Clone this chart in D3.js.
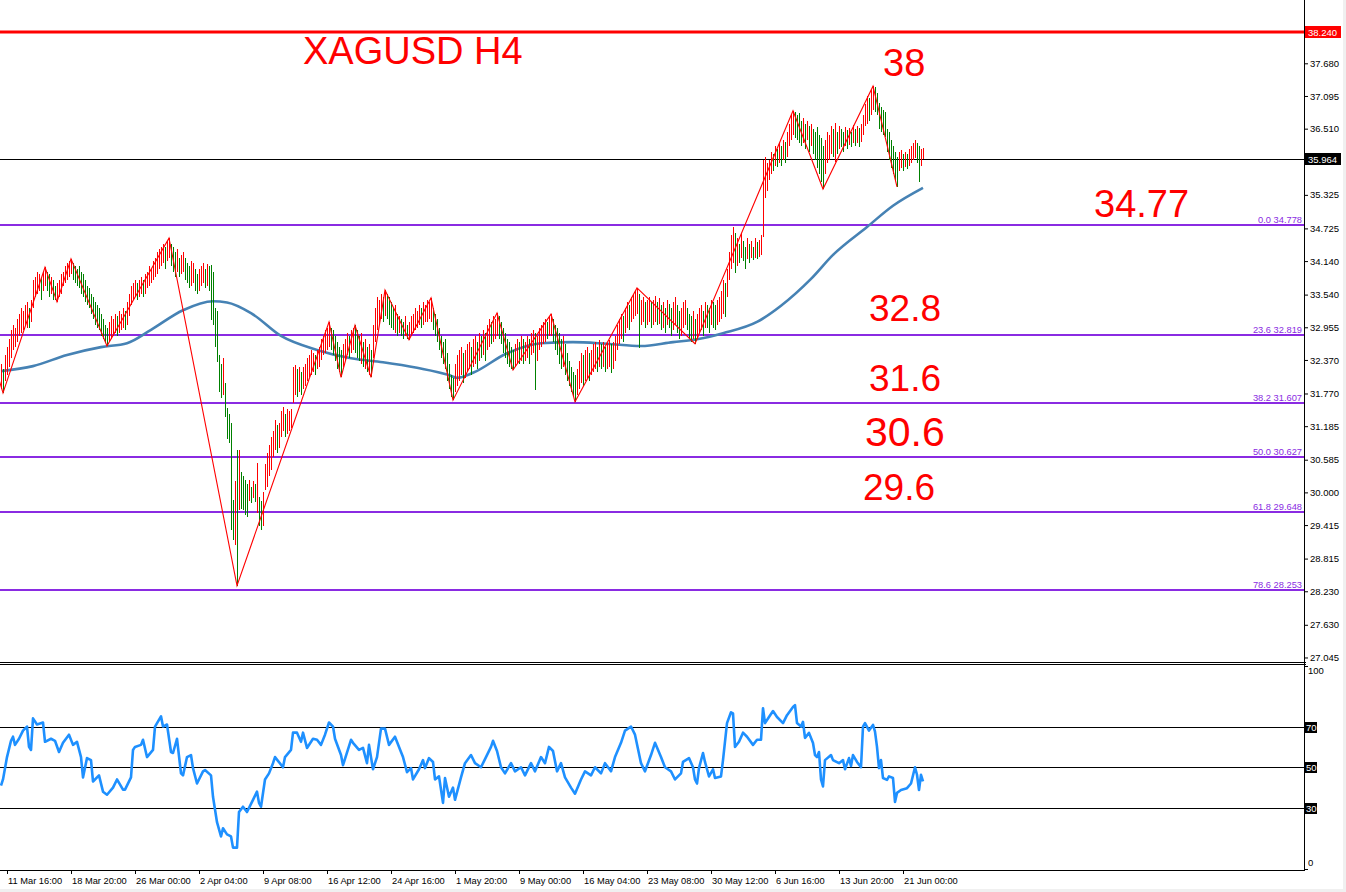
<!DOCTYPE html>
<html><head><meta charset="utf-8">
<script src="https://cdn.jsdelivr.net/npm/d3@7"></script>
<style>body{margin:0;background:#fff}svg{display:block}</style>
</head><body><svg id="c" width="1346" height="892"></svg>
<script>
// ---------------- DATA ----------------
// H4 bars: [high, low]
const bars = [
[32.30,31.85],[32.20,31.78],[32.45,32.00],[32.60,32.10],[32.75,32.25],[32.90,32.40],[33.00,32.55],[32.95,32.60],[33.10,32.70],[33.20,32.80],
[33.30,32.85],[33.25,32.90],[33.35,33.00],[33.40,32.95],[33.30,32.95],[33.45,33.05],[33.80,33.30],[33.85,33.50],[33.95,33.55],[33.90,33.60],
[33.85,33.45],[33.95,33.60],[34.03,33.70],[33.95,33.60],[33.90,33.50],[33.85,33.55],[33.80,33.45],[33.70,33.45],[33.75,33.41],[33.80,33.50],
[33.90,33.55],[33.95,33.70],[34.05,33.75],[34.10,33.80],[34.15,33.85],[34.18,33.90],[34.10,33.80],[34.05,33.75],[34.00,33.70],[34.05,33.65],
[33.95,33.55],[33.90,33.50],[33.80,33.40],[33.70,33.35],[33.65,33.30],[33.55,33.20],[33.50,33.10],[33.40,33.00],[33.35,32.95],[33.30,32.90],
[33.20,32.80],[33.10,32.75],[33.00,32.70],[32.95,32.62],[33.05,32.70],[33.15,32.75],[33.10,32.80],[33.20,32.85],[33.15,32.80],[33.25,32.85],
[33.20,32.90],[33.30,32.95],[33.25,32.90],[33.40,33.00],[33.55,33.15],[33.70,33.35],[33.75,33.45],[33.80,33.50],[33.75,33.45],[33.80,33.50],
[33.85,33.55],[33.80,33.50],[33.90,33.55],[33.95,33.65],[34.05,33.70],[34.00,33.75],[34.15,33.80],[34.20,33.85],[34.30,33.90],[34.35,34.00],
[34.40,34.05],[34.45,34.10],[34.40,34.00],[34.50,34.15],[34.55,34.20],[34.45,34.05],[34.40,33.95],[34.30,33.85],[34.35,33.95],[34.20,33.85],
[34.25,33.90],[34.30,33.95],[34.20,33.80],[34.10,33.75],[34.05,33.65],[34.15,33.70],[34.10,33.75],[34.00,33.60],[33.90,33.55],[34.00,33.60],
[34.05,33.70],[34.10,33.75],[34.00,33.65],[34.08,33.70],[34.05,33.60],[34.07,33.08],[33.95,33.00],[33.30,32.60],[33.24,32.33],[32.46,31.80],
[32.30,31.69],[32.40,31.75],[31.96,31.35],[31.51,30.95],[31.40,30.88],[31.24,29.33],[29.86,29.15],[30.20,29.05],[30.76,28.33],[30.76,29.68],
[30.36,29.70],[30.30,29.68],[30.22,29.60],[30.15,29.56],[30.22,29.85],[30.10,29.81],[30.20,29.90],[30.15,29.82],[30.53,29.63],[29.92,29.40],
[29.85,29.33],[30.00,29.40],[30.50,30.04],[30.70,30.10],[30.85,30.30],[30.99,30.40],[31.10,30.63],[31.30,30.75],[31.20,30.70],[31.25,30.80],
[31.45,30.99],[31.53,31.10],[31.40,31.00],[31.50,31.05],[31.45,31.10],[31.50,31.15],[32.24,31.60],[32.28,31.75],[32.20,31.71],[32.25,31.80],
[32.15,31.75],[32.25,31.85],[32.30,31.90],[32.40,32.00],[32.45,32.06],[32.55,32.10],[32.50,32.15],[32.45,32.10],[32.55,32.20],[32.60,32.25],
[32.75,32.37],[32.80,32.45],[32.90,32.50],[32.95,32.55],[33.05,32.60],[32.95,32.55],[32.90,32.45],[32.80,32.35],[32.70,32.20],[32.60,32.15],
[32.55,32.06],[32.65,32.25],[32.75,32.35],[32.85,32.45],[32.80,32.40],[32.90,32.50],[32.95,32.55],[32.99,32.50],[32.90,32.40],[32.80,32.35],
[32.85,32.30],[32.70,32.25],[32.75,32.20],[32.60,32.15],[32.65,32.10],[32.55,32.06],[33.00,32.40],[33.30,32.70],[33.50,32.90],[33.45,33.00],
[33.55,33.10],[33.50,33.05],[33.62,33.15],[33.55,33.10],[33.50,33.00],[33.40,32.95],[33.30,32.90],[33.35,32.85],[33.20,32.80],[33.15,32.85],
[33.10,32.80],[33.05,32.75],[33.15,32.80],[33.00,32.75],[33.05,32.73],[33.15,32.80],[33.20,32.85],[33.30,32.90],[33.25,32.95],[33.35,33.00],
[33.30,32.95],[33.40,33.00],[33.35,33.05],[33.45,33.05],[33.40,33.10],[33.48,33.05],[33.30,32.90],[33.20,32.80],[33.10,32.70],[32.95,32.55],
[32.80,32.40],[32.70,32.30],[32.75,32.20],[32.50,32.00],[32.30,31.85],[32.10,31.70],[32.05,31.65],[32.30,31.80],[32.45,31.90],[32.55,32.00],
[32.60,32.10],[32.50,31.95],[32.55,32.05],[32.65,32.15],[32.70,32.20],[32.60,32.10],[32.75,32.25],[32.80,32.30],[32.70,32.20],[32.85,32.35],
[32.80,32.40],[32.90,32.45],[32.85,32.35],[33.00,32.55],[33.10,32.60],[33.05,32.65],[33.15,32.70],[33.10,32.75],[33.21,32.80],[33.15,32.75],
[33.05,32.65],[32.95,32.50],[32.85,32.40],[32.75,32.30],[32.70,32.25],[32.60,32.20],[32.55,32.19],[32.65,32.25],[32.75,32.30],[32.70,32.30],
[32.80,32.35],[32.75,32.30],[32.70,32.35],[32.80,32.40],[32.75,32.30],[32.85,32.45],[32.90,32.50],[32.85,31.83],[32.80,32.35],[32.95,32.55],
[33.00,32.60],[33.05,32.65],[33.10,32.70],[33.05,32.75],[33.15,32.80],[33.19,32.80],[33.10,32.70],[33.00,32.55],[32.95,32.45],[32.85,32.30],
[32.75,32.20],[32.80,32.25],[32.65,32.10],[32.50,32.00],[32.35,31.90],[32.25,31.80],[32.15,31.70],[32.10,31.62],[32.20,31.75],[32.35,31.85],
[32.50,31.95],[32.45,31.90],[32.55,32.00],[32.60,32.05],[32.50,32.00],[32.55,32.10],[32.65,32.15],[32.70,32.20],[32.60,32.15],[32.73,32.25],
[32.65,32.20],[32.70,32.25],[32.60,32.15],[32.68,32.20],[32.72,32.25],[32.65,32.13],[32.70,32.20],[32.80,32.35],[33.00,32.55],[33.10,32.65],
[33.20,32.75],[33.15,32.70],[33.30,32.85],[33.40,32.95],[33.35,32.90],[33.50,33.05],[33.55,33.10],[33.60,33.15],[33.66,33.20],[33.55,32.58],
[33.45,33.00],[33.50,33.05],[33.40,32.95],[33.45,33.00],[33.50,33.05],[33.40,32.95],[33.45,33.00],[33.52,33.05],[33.40,33.00],[33.48,33.02],
[33.35,32.90],[33.40,32.95],[33.30,32.85],[33.45,33.00],[33.38,32.95],[33.30,32.80],[33.40,32.90],[33.50,33.00],[33.35,32.85],[33.25,32.75],
[33.30,32.80],[33.40,32.95],[33.45,33.00],[33.30,32.90],[33.20,32.75],[33.15,32.70],[33.25,32.75],[33.10,32.66],[33.20,32.75],[33.30,32.85],
[33.35,32.90],[33.25,32.80],[33.40,32.95],[33.35,32.95],[33.30,32.85],[33.45,33.00],[33.40,32.95],[33.35,32.90],[33.45,33.00],[33.50,33.05],
[33.60,33.10],[33.80,33.20],[33.75,33.14],[34.00,33.50],[34.30,33.80],[34.60,34.00],[34.75,34.10],[34.65,33.93],[34.55,34.05],[34.45,34.10],
[34.64,34.20],[34.50,34.15],[34.40,34.00],[34.55,34.18],[34.45,34.10],[34.50,34.20],[34.40,34.16],[34.55,34.20],[34.48,34.18],[34.52,34.22],
[34.60,34.25],[35.95,34.57],[36.00,35.27],[35.90,35.40],[35.95,35.60],[36.10,35.70],[36.05,35.75],[36.20,35.85],[36.15,35.83],[36.25,35.90],
[36.20,35.85],[36.31,35.95],[36.28,35.90],[36.45,36.00],[36.60,36.20],[36.75,36.30],[36.83,36.40],[36.80,36.35],[36.75,36.30],[36.79,36.25],
[36.65,36.20],[36.70,36.25],[36.60,36.15],[36.65,36.30],[36.55,36.10],[36.60,36.20],[36.50,36.05],[36.45,35.95],[36.54,35.80],[36.40,35.70],
[36.35,35.55],[36.20,35.43],[36.30,35.70],[36.45,35.90],[36.40,35.95],[36.55,36.05],[36.50,36.00],[36.61,35.91],[36.45,36.05],[36.55,36.15],
[36.50,36.18],[36.45,36.10],[36.54,36.20],[36.48,36.15],[36.52,36.22],[36.45,36.18],[36.58,36.25],[36.50,36.20],[36.55,36.25],[36.52,36.18],
[36.60,36.28],[36.75,36.40],[36.95,36.55],[37.10,36.60],[37.05,36.65],[37.20,36.75],[37.27,36.85],[37.25,36.80],[37.15,36.75],[36.97,36.50],
[36.90,36.45],[36.85,36.40],[36.80,36.36],[36.50,36.10],[36.45,35.95],[36.30,35.80],[36.20,35.70],[36.10,35.60],[36.00,35.47],[36.10,35.75],
[36.13,35.80],[36.05,35.75],[36.10,35.82],[36.05,35.78],[36.15,35.85],[36.20,35.90],[36.25,35.95],[36.31,35.98],[36.25,35.90],[36.20,35.56],
[36.15,35.85],[36.16,35.96]
];

// ZigZag pivots: [bar index, price]
const zigzag = [[-6,32.62],[1,31.78],[22,34.03],[28,33.41],[35,34.18],[53,32.62],[84,34.55],[118,28.33],[164,33.05],[170,32.06],[177,32.99],
[185,32.06],[192,33.62],[204,32.73],[215,33.48],[226,31.65],[248,33.21],[256,32.19],[275,33.19],[287,31.62],[318,33.66],[347,32.66],
[396,36.83],[411,35.43],[436,37.27],[448,35.47]];

// Moving average: [bar index, price]
const movingAvg = [[0,32.17],[16,32.26],[33,32.46],[50,32.60],[63,32.67],[75,32.91],[91,33.26],[106,33.42],[113,33.40],[125,33.21],
[140,32.80],[158,32.55],[175,32.40],[191,32.33],[208,32.23],[224,32.10],[228,32.05],[236,32.14],[253,32.49],[270,32.67],[286,32.69],
[303,32.66],[320,32.62],[336,32.69],[348,32.74],[361,32.85],[378,33.05],[390,33.34],[405,33.82],[416,34.25],[433,34.75],[446,35.13],[461,35.45]];

// RSI: [bar index, value]
const rsi = [[0,41],[1,44],[3,55],[5,63],[6,65],[7,61],[9,64],[11,68],[13,70],[14,60],[15,58.5],[16,74],[18,71],[21,72],[22,62.5],
[25,64],[27,63],[29,57.5],[31,62],[34,66],[36,61],[38,62.5],[40,55],[41,45],[43,54.5],[45,53.5],[46,43],[49,46],[51,38],[53,36.5],
[56,40],[58,44],[61,39],[62,39],[65,45],[66,58.5],[67,60],[70,61],[71,63.5],[73,55],[76,58.5],[77,70],[80,75],[81,70],[83,71],
[85,57.5],[86,57],[88,64],[90,47],[91,46],[93,55],[95,56],[96,49.6],[98,42],[101,48],[102,48.6],[105,46],[106,35.5],[108,23],
[110,16],[111,20],[113,17],[115,16],[116,10.5],[117,10.5],[118,10.5],[119,28],[121,30.6],[123,28],[126,34],[128,38],[129,32.5],
[130,30.6],[132,44],[134,47],[136,52],[137,55],[141,50],[142,55],[145,58.5],[146,67],[148,67],[150,62.5],[151,67],[153,59.5],
[156,64],[158,63.5],[160,61],[162,66],[164,72],[166,70],[167,64],[170,56],[171,51],[175,63.5],[176,62],[179,58.5],[181,59.5],
[183,52],[184,61],[186,49],[188,55],[190,69],[192,69],[194,61],[197,65],[200,57.5],[201,55],[203,47.6],[205,49.6],[206,44],
[209,49],[211,53.5],[212,49.6],[214,54.5],[216,52.6],[217,44],[219,45.5],[221,32.5],[222,44.7],[224,35.5],[226,40],[227,34],
[230,45],[232,52],[235,56],[237,52],[240,50],[242,54],[245,60],[246,63],[248,58],[250,50],[252,47],[255,52],[257,48],[260,50],
[262,46],[265,52],[267,48],[270,55],[272,52],[274,60],[276,58],[278,48],[280,52],[282,45],[285,40],[287,37],[290,44],[292,48],
[295,46],[297,50],[300,47],[302,52],[305,48],[307,55],[310,62],[312,68],[315,70],[317,66],[320,52],[322,48],[325,56],[327,62],
[330,55],[332,50],[335,48],[337,44],[340,47],[341,52.6],[344,54.5],[346,50],[347,44],[348,42],[349,49.6],[351,57],[352,52.6],
[354,45.5],[356,49],[357,44.7],[360,45.5],[361,53.5],[363,71.7],[365,77],[366,76.5],[367,60],[369,62.5],[371,67],[373,65],
[376,61],[378,63.5],[380,63.5],[381,79],[382,71.7],[384,74.7],[386,77.6],[388,74.7],[391,71.7],[393,75.6],[396,79.6],[397,80.5],
[398,71.7],[400,70],[401,72.3],[402,64.4],[404,66.9],[406,61.9],[407,56],[408,55],[409,57.5],[410,44],[411,40.6],[412,53.5],
[415,56],[416,53.5],[419,52],[421,53.5],[422,49],[424,54.5],[425,50.6],[426,56],[428,52.6],[430,50],[431,70],[432,71.7],[434,68],
[436,70.8],[437,67.5],[438,60],[439,49.6],[440,53.5],[441,44.7],[443,43.8],[444,45.5],[446,44.7],[447,33],[448,37.4],[450,38.8],
[453,39.7],[455,42],[457,50],[458,46.3],[459,38.8],[460,46.3],[461,43]];

const priceTicks = [37.680,37.095,36.510,35.925,35.325,34.725,34.140,33.540,32.955,32.370,31.770,31.185,30.585,30.000,29.415,28.815,28.230,27.630,27.045];
const fibLevels = [34.778,32.819,31.607,30.627,29.648,28.253];
const fibRatios = ["0.0","23.6","38.2","50.0","61.8","78.6"];
const resistance = 38.240;
const lastPrice = 35.964;
const rsiLevels = [70,50,30];
const timeTickBars = [3,35,67,99,131,163,195,227,259,291,323,355,387,419,451];
const timeLabels = ["11 Mar 16:00","18 Mar 20:00","26 Mar 00:00","2 Apr 04:00","9 Apr 08:00","16 Apr 12:00","24 Apr 16:00","1 May 20:00",
"9 May 00:00","16 May 04:00","23 May 08:00","30 May 12:00","6 Jun 16:00","13 Jun 20:00","21 Jun 00:00"];
const noteTexts = ["XAGUSD H4","38","34.77","32.8","31.6","30.6","29.6"];

// ---------------- LAYOUT ----------------
const svg = d3.select("#c");
const axisX = 1304, mainBottom = 662, rsiTop = 664, rsiBottom = 870;
const AX_FONT = "'Liberation Sans', Arial, sans-serif";
const x = d3.scaleLinear().domain([-0.5, 651.5]).range([0, 1304]);
const y = d3.scaleLinear().domain([26.964, 38.813]).range([mainBottom, 0]);
const yr = d3.scaleLinear().domain([0, 100]).range([869, 665.5]);

svg.append("rect").attr("width",1346).attr("height",892).attr("fill","#fff");
svg.append("rect").attr("x",0).attr("y",889).attr("width",1346).attr("height",3).attr("fill","#f0f0f0");
svg.append("rect").attr("x",1343).attr("y",0).attr("width",3).attr("height",892).attr("fill","#f0f0f0");

const defs = svg.append("defs");
defs.append("clipPath").attr("id","cm").append("rect").attr("x",0).attr("y",0).attr("width",axisX).attr("height",mainBottom);
defs.append("clipPath").attr("id","cr").append("rect").attr("x",0).attr("y",rsiTop).attr("width",axisX).attr("height",rsiBottom-rsiTop);

const gm = svg.append("g").attr("clip-path","url(#cm)");

// fib lines
gm.selectAll("line.fib").data(fibLevels).join("line").attr("class","fib")
  .attr("x1",0).attr("x2",axisX).attr("y1",d=>Math.round(y(d))).attr("y2",d=>Math.round(y(d)))
  .attr("stroke","#8A2BE2").attr("stroke-width",2);
gm.selectAll("text.fibl").data(fibLevels).join("text").attr("class","fibl")
  .attr("x",axisX-2).attr("y",d=>Math.round(y(d))-2.5).attr("text-anchor","end")
  .attr("font-family",AX_FONT).attr("font-size",9.3).attr("fill","#8A2BE2")
  .text((d,i)=>fibRatios[i]+" "+d.toFixed(3));

// resistance and last price lines
gm.append("line").attr("x1",0).attr("x2",axisX).attr("y1",Math.round(y(resistance))).attr("y2",Math.round(y(resistance)))
  .attr("stroke","#ff0000").attr("stroke-width",3);
gm.append("line").attr("x1",0).attr("x2",axisX).attr("y1",Math.round(y(lastPrice))+0.5).attr("y2",Math.round(y(lastPrice))+0.5)
  .attr("stroke","#000").attr("stroke-width",1);

// moving average
gm.append("path").datum(movingAvg)
  .attr("d",d3.line().x(d=>x(d[0])).y(d=>y(d[1])).curve(d3.curveMonotoneX))
  .attr("fill","none").attr("stroke","#4682B4").attr("stroke-width",2.6);

// bars
gm.append("g").selectAll("line").data(bars).join("line")
  .attr("x1",(d,i)=>Math.round(x(i))+0.5).attr("x2",(d,i)=>Math.round(x(i))+0.5)
  .attr("y1",d=>y(d[0])).attr("y2",d=>y(d[1]))
  .attr("stroke",(d,i)=>{ if(i===0) return "#ff0000"; const p=bars[i-1]; return (d[0]+d[1]) >= (p[0]+p[1]) ? "#ff0000" : "#008000"; })
  .attr("stroke-width",1).attr("shape-rendering","crispEdges");

// zigzag
gm.append("path").datum(zigzag)
  .attr("d",d3.line().x(d=>x(d[0])).y(d=>y(d[1])))
  .attr("fill","none").attr("stroke","#ff0000").attr("stroke-width",1.1);

// annotations
const noteLayout = [
  {x:303,y:64,s:38},{x:883,y:76,s:38},{x:1094,y:217,s:38},{x:869,y:321,s:37},{x:869,y:391,s:37},{x:865,y:446,s:41},{x:863,y:500,s:37}
];
svg.selectAll("text.note").data(noteTexts).join("text").attr("class","note")
  .attr("x",(d,i)=>noteLayout[i].x).attr("y",(d,i)=>noteLayout[i].y)
  .attr("font-size",(d,i)=>noteLayout[i].s).attr("font-family","'Liberation Sans', Arial, sans-serif")
  .attr("fill","#ff0000").text(d=>d);

// RSI panel
const gr = svg.append("g").attr("clip-path","url(#cr)");
gr.selectAll("line.lvl").data(rsiLevels).join("line").attr("class","lvl")
  .attr("x1",0).attr("x2",axisX).attr("y1",d=>Math.round(yr(d))+0.5).attr("y2",d=>Math.round(yr(d))+0.5)
  .attr("stroke","#000").attr("stroke-width",1);
gr.append("path").datum(rsi)
  .attr("d",d3.line().x(d=>x(d[0])).y(d=>yr(d[1])))
  .attr("fill","none").attr("stroke","#1E90FF").attr("stroke-width",2.6).attr("stroke-linejoin","round");

// panel borders
svg.append("line").attr("x1",0).attr("x2",axisX+2).attr("y1",mainBottom+0.5).attr("y2",mainBottom+0.5).attr("stroke","#000");
svg.append("line").attr("x1",0).attr("x2",axisX+2).attr("y1",rsiTop+0.5).attr("y2",rsiTop+0.5).attr("stroke","#000");
svg.append("line").attr("x1",0).attr("x2",axisX+1).attr("y1",rsiBottom+0.5).attr("y2",rsiBottom+0.5).attr("stroke","#000");
svg.append("line").attr("x1",axisX+0.5).attr("x2",axisX+0.5).attr("y1",0).attr("y2",rsiBottom+1).attr("stroke","#000");

// price axis
const pa = svg.append("g").attr("transform",`translate(${axisX},0)`)
  .call(d3.axisRight(y).tickValues(priceTicks).tickFormat(d3.format(".3f")).tickSize(4).tickPadding(2));
pa.select(".domain").remove();
pa.selectAll("text").attr("font-family",AX_FONT).attr("font-size",9.5).attr("fill","#000");
pa.selectAll("line").attr("stroke","#000");

// price label boxes
function priceBox(v, bg){
  const yy = Math.round(y(v));
  svg.append("rect").attr("x",axisX+1).attr("y",yy-6).attr("width",36).attr("height",12).attr("fill",bg);
  svg.append("text").attr("x",axisX+4).attr("y",yy+3.5).attr("font-family",AX_FONT).attr("font-size",9.5)
    .attr("fill","#fff").text(v.toFixed(3));
}
priceBox(resistance,"#ff0000");
priceBox(lastPrice,"#000");

// RSI axis
[100,0].forEach(v=>{
  const yy = yr(v);
  svg.append("line").attr("x1",axisX).attr("x2",axisX+4).attr("y1",Math.round(yy)+0.5).attr("y2",Math.round(yy)+0.5).attr("stroke","#000");
  svg.append("text").attr("x",axisX+4).attr("y",v===100?yy+8:yy-3).attr("font-family",AX_FONT).attr("font-size",9.5)
    .attr("fill","#000").text(v);
});
rsiLevels.forEach(v=>{
  const yy = Math.round(yr(v));
  svg.append("rect").attr("x",axisX+1).attr("y",yy-5).attr("width",12).attr("height",11).attr("fill","#000");
  svg.append("text").attr("x",axisX+2).attr("y",yy+4).attr("font-family",AX_FONT).attr("font-size",9.5)
    .attr("fill","#fff").text(v);
});

// time axis
const ta = svg.append("g");
ta.selectAll("line").data(timeTickBars).join("line")
  .attr("x1",d=>Math.round(x(d))+0.5).attr("x2",d=>Math.round(x(d))+0.5).attr("y1",rsiBottom).attr("y2",rsiBottom+4)
  .attr("stroke","#000");
ta.selectAll("text").data(timeTickBars).join("text")
  .attr("x",d=>Math.round(x(d))+1).attr("y",rsiBottom+14)
  .attr("font-family",AX_FONT).attr("font-size",9.3).attr("fill","#000")
  .text((d,i)=>timeLabels[i]);
</script></body></html>
